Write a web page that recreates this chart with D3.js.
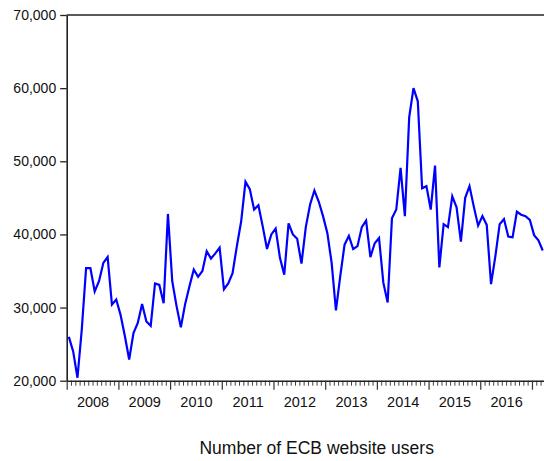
<!DOCTYPE html>
<html>
<head>
<meta charset="utf-8">
<script src="https://cdn.jsdelivr.net/npm/d3@7"></script>
<style>
  html, body { margin: 0; padding: 0; background: #fff; }
  svg { display: block; }
  text { font-family: "Liberation Sans", Arial, sans-serif; fill: #111; }
</style>
</head>
<body>
<svg id="chart" width="544" height="461"></svg>
<script>
// Monthly observations, Jan 2008 .. Mar 2017
const startYear = 2008;
const users = [
  26000, 24000, 20400, 27000, 35400, 35400, 32200, 33600, 36100, 36900, 30400, 31100,
  29000, 26100, 22900, 26500, 27900, 30500, 28100, 27500, 33300, 33100, 30600, 42800,
  33600, 30200, 27300, 30500, 32900, 35200, 34200, 35000, 37700, 36700, 37400, 38200,
  32500, 33300, 34700, 38400, 41800, 47200, 46200, 43400, 44000, 41100, 38000, 40000,
  40800, 36800, 34500, 41500, 40000, 39400, 36000, 41000, 44100, 46000, 44500, 42500,
  40200, 36100, 29600, 34300, 38600, 39800, 38000, 38400, 41000, 41900, 36900, 38800,
  39500, 33400, 30700, 42200, 43400, 49100, 42500, 56000, 60000, 58200, 46300, 46600,
  43400, 49400, 35500, 41400, 41000, 45200, 43700, 39000, 45000, 46600, 43800, 41200,
  42500, 41300, 33200, 37000, 41400, 42100, 39700, 39600, 43100, 42700, 42500, 42000,
  39900, 39200, 37800
];
const yearLabels = ["2008", "2009", "2010", "2011", "2012", "2013", "2014", "2015", "2016"];
const yTicks = [20000, 30000, 40000, 50000, 60000, 70000];
const xTitle = "Number of ECB website users";

const svg = d3.select("#chart");
const plotLeft = 66.7, plotTop = 15, plotBottom = 380.7;
const monthW = 4.308;
const nMonths = 111;

// x in month units (0 = start of Jan 2008)
const x = d3.scaleLinear().domain([0, nMonths]).range([plotLeft, plotLeft + nMonths * monthW]);
const y = d3.scaleLinear().domain([20000, 70000]).range([plotBottom, plotTop]);

// top border
svg.append("line")
  .attr("x1", plotLeft).attr("x2", x(nMonths))
  .attr("y1", plotTop).attr("y2", plotTop)
  .attr("stroke", "#222").attr("stroke-width", 1.6);

// minor month ticks
const minorTicks = d3.range(0, nMonths + 1).filter(m => m % 12 !== 0);
svg.append("g")
  .attr("transform", `translate(0,${plotBottom})`)
  .call(d3.axisBottom(x).tickValues(minorTicks).tickSize(5).tickFormat("").tickSizeOuter(0))
  .call(g => g.select(".domain").remove())
  .call(g => g.selectAll(".tick line").attr("stroke", "#444").attr("stroke-width", 1));

// major year ticks
const majorTicks = d3.range(0, nMonths + 1, 12);
svg.append("g")
  .attr("transform", `translate(0,${plotBottom})`)
  .call(d3.axisBottom(x).tickValues(majorTicks).tickSize(9).tickFormat("").tickSizeOuter(0))
  .call(g => g.select(".domain").attr("stroke", "#222").attr("stroke-width", 1.6))
  .call(g => g.selectAll(".tick line").attr("stroke", "#333").attr("stroke-width", 1.2));

// year labels at mid-year
svg.append("g")
  .attr("transform", `translate(0,${plotBottom})`)
  .call(d3.axisBottom(x)
    .tickValues(yearLabels.map((d, i) => i * 12 + 6))
    .tickFormat((d, i) => yearLabels[i])
    .tickSize(0).tickPadding(16))
  .call(g => g.select(".domain").remove())
  .call(g => g.selectAll("text").style("font-size", "14.5px").attr("fill", "#111"));

// y axis
svg.append("g")
  .attr("transform", `translate(${plotLeft},0)`)
  .call(d3.axisLeft(y).tickValues(yTicks).tickFormat(d3.format(",")).tickSize(6.5).tickPadding(4).tickSizeOuter(0))
  .call(g => g.select(".domain").attr("stroke", "#222").attr("stroke-width", 1.6))
  .call(g => g.selectAll(".tick line").attr("stroke", "#222").attr("stroke-width", 1.3))
  .call(g => g.selectAll("text").style("font-size", "14px").attr("fill", "#111"));

// data line
const line = d3.line()
  .x((d, i) => x(i + 0.5))
  .y(d => y(d));
svg.append("path")
  .datum(users)
  .attr("fill", "none")
  .attr("stroke", "#0000ff")
  .attr("stroke-width", 2.2)
  .attr("stroke-linejoin", "miter")
  .attr("d", line);

// axis title
svg.append("text")
  .attr("x", 316.7)
  .attr("y", 453.5)
  .attr("text-anchor", "middle")
  .style("font-size", "17.5px")
  .text(xTitle);
</script>
</body>
</html>
